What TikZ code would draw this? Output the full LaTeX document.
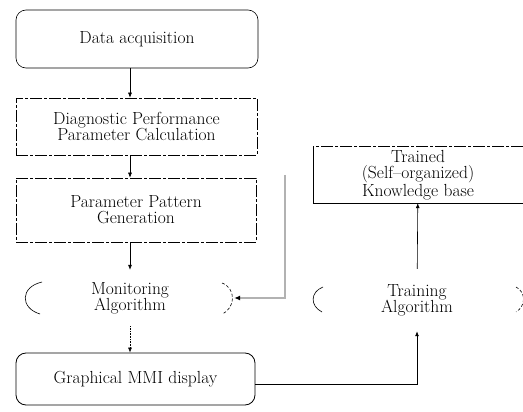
\documentclass[tikz,border=0pt]{standalone}
\usetikzlibrary{arrows.meta}
\begin{document}
\begin{tikzpicture}[x=1pt,y=-1pt,
  lbl/.style={font=\fontsize{17.5}{16}\selectfont, align=center, inner sep=0pt},
  ln/.style={line width=0.6pt, draw=black},
  dsh/.style={ln, dash pattern=on 12pt off 2pt on 3pt off 2pt},
  rbox/.style={ln, rounded corners=10pt},
  arr/.style={ln, -{Latex[length=5pt,width=4pt]}},
  faint/.style={line width=1.2pt, draw=black!30}]
\useasboundingbox (0,0) rectangle (523,412);
% boxes
\node[lbl, rbox, minimum width=242pt, minimum height=58pt] (da) at (137,39) {Data acquisition};
\node[lbl, dsh, minimum width=241pt, minimum height=57pt] (dp) at (136.5,126.5) {Diagnostic Performance\\Parameter Calculation};
\node[lbl, dsh, minimum width=240pt, minimum height=64pt] (pp) at (136,210) {Parameter Pattern\\Generation};
\node[lbl, minimum width=208pt, minimum height=56pt] (mon) at (130,298) {Monitoring\\Algorithm};
\node[lbl, rbox, line width=0.8pt, minimum width=239pt, minimum height=52pt] (gm) at (135.5,379) {Graphical MMI display};
\node[lbl, minimum width=200pt, minimum height=62pt] (tr) at (417,300) {Training\\Algorithm};
\node[lbl, minimum width=210pt, minimum height=56pt] (kb) at (418,175) {Trained\\(Self--organized)\\Knowledge base};
% decorative parts of shapes
\draw[ln] (42,282) .. controls (20,287) and (20,308) .. (40,314);
\draw[ln, densely dashed] (222,283) .. controls (236,288) and (236,308) .. (222,314);
\draw[ln] (323,287) .. controls (310,292) and (310,306) .. (322,312);
\draw[ln, densely dashed] (516,287) .. controls (526,292) and (526,306) .. (516,312);
\draw[dsh] (kb.north east) -- (kb.north west);
\draw[ln] (kb.north west) -- (kb.south west);
\draw[ln, line width=1pt] (kb.south west) -- (kb.south east);
% connectors
\draw[arr] (da.south -| mon) -- (dp.north -| mon);
\draw[arr] (dp.south -| mon) -- (pp.north -| mon);
\draw[arr] (pp.south -| mon) -- (mon.north);
\draw[arr, densely dotted] (mon.south) -- (gm.north -| mon);
\draw[arr, line width=0.8pt] ([yshift=-5pt]gm.east) -| (tr.south);
\draw[arr] (tr) -- (kb);
\coordinate (g) at (285,175);
\draw[faint, -{Latex[length=6pt,width=5pt,color=black]}] (g) |- (mon.east);
\end{tikzpicture}
\end{document}
